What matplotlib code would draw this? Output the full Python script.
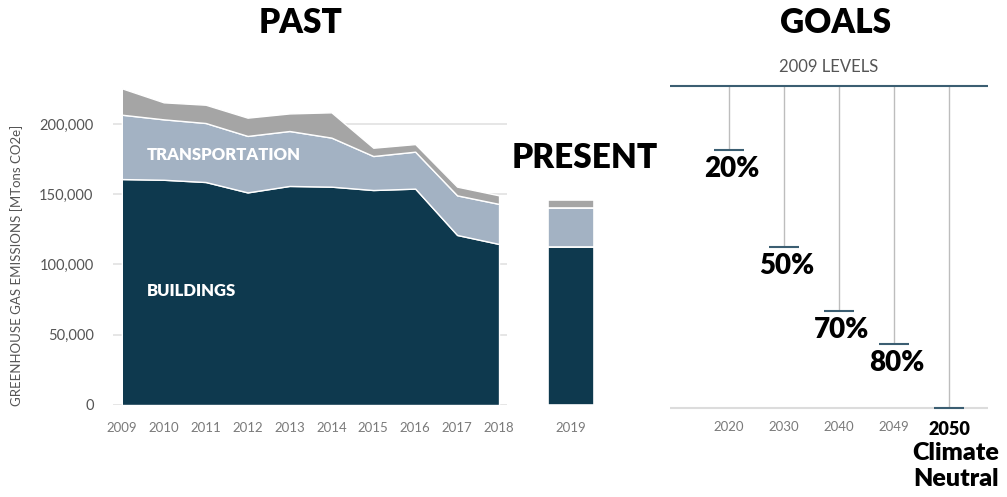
import matplotlib.pyplot as plt
import numpy as np

years = [2009, 2010, 2011, 2012, 2013, 2014, 2015, 2016, 2017, 2018]
buildings = [160800, 160300, 158700, 151300, 155900, 155400, 153000, 154000, 121000, 114600]
transportation = [45800, 43000, 42000, 40200, 39100, 34900, 24200, 26300, 28200, 28500]
other = [18800, 12100, 13000, 13000, 12500, 18000, 5900, 5400, 6200, 6100]

present_year = "2019"
present_buildings = 112500
present_transportation = 28000
present_other = 5200

goal_years = ["2020", "2030", "2040", "2049", "2050"]
goal_reductions = [20, 50, 70, 80, 100]
goal_labels = ["20%", "50%", "70%", "80%", ""]

C_BUILD = "#0e394e"
C_TRANS = "#a3b2c3"
C_OTHER = "#a5a5a5"
C_TEAL = "#3b5e72"
C_GRID = "#e2e2e2"
TICK_GRAY = "#7a7a7a"

plt.rcParams['font.family'] = ['Lato', 'DejaVu Sans']

W, H = 1007, 497
fig = plt.figure(figsize=(W / 100, H / 100), dpi=100)


def px_axes(x0, x1, y0, y1):
    # pixel box -> figure axes
    return fig.add_axes([x0 / W, 1 - y1 / H, (x1 - x0) / W, (y1 - y0) / H])


YMAX = (405 - 80) * 711.7

# ---- past ----
ax = px_axes(113, 507, 80, 405)
ax.stackplot(years, buildings, transportation, other,
             colors=[C_BUILD, C_TRANS, C_OTHER], edgecolor="white", linewidth=1.0, zorder=2)
ax.set_xlim(2008.79, 2018.19)
ax.set_ylim(0, YMAX)
ax.set_yticks([0, 50000, 100000, 150000, 200000])
ax.set_yticklabels(["0", "50,000", "100,000", "150,000", "200,000"])
ax.set_xticks(years)
ax.grid(axis="y", color=C_GRID, lw=1.2, zorder=0)
ax.set_axisbelow(True)
for s in ax.spines.values():
    s.set_visible(False)
ax.tick_params(axis="y", length=0, pad=14, labelsize=10.5, labelcolor="#555555")
ax.tick_params(axis="x", length=0, pad=12, labelsize=9.5, labelcolor=TICK_GRAY)
ax.set_ylabel("GREENHOUSE GAS EMISSIONS [MTons CO2e]", fontsize=9.5, color="#555555")
ax.yaxis.set_label_coords(-0.228, 0.43)
ax.text(2009.6, 178000, "TRANSPORTATION", color="white", fontsize=12, fontweight="heavy", va="center")
ax.text(2009.6, 81000, "BUILDINGS", color="white", fontsize=12, fontweight="heavy", va="center")

# ---- present ----
axp = px_axes(530, 612, 80, 405)
w = 46 / 82
axp.bar([0], [present_buildings], width=w, color=C_BUILD, edgecolor="white", lw=1.2)
axp.bar([0], [present_transportation], bottom=[present_buildings], width=w, color=C_TRANS, edgecolor="white", lw=1.2)
axp.bar([0], [present_other], bottom=[present_buildings + present_transportation], width=w,
        color=C_OTHER, edgecolor="white", lw=1.2)
axp.set_xlim(-0.5, 0.5)
axp.set_ylim(0, YMAX)
axp.set_xticks([0])
axp.set_xticklabels([present_year])
axp.set_yticks([])
for s in axp.spines.values():
    s.set_visible(False)
axp.tick_params(axis="x", length=0, pad=12, labelsize=9.5, labelcolor=TICK_GRAY)

# ---- goals ----
axg = px_axes(670, 988, 60, 410)
unit = 322.0
axg.set_ylim(-2 / unit, 1 + 26 / unit)
axg.set_xlim((670 - 729) / 55, (988 - 729) / 55)
xs = np.arange(len(goal_years))
levels = [1 - r / 100 for r in goal_reductions]
axg.axhline(1.0, color=C_TEAL, lw=1.5, zorder=3)
axg.axhline(0.0, color="#dcdcdc", lw=1.5, zorder=1)
axg.vlines(xs, levels, 1.0, color="#bdbdbd", lw=1.0, zorder=2)
axg.hlines(levels, xs - 0.28, xs + 0.28, color=C_TEAL, lw=1.5, zorder=3)
for x, lv, lab in zip(xs, levels, goal_labels):
    if lab:
        axg.text(x + 0.05, lv - 6 / unit, lab, ha="center", va="top", fontsize=20, fontweight="heavy", color="black")
axg.text(((670 + 988) / 2 - 729) / 55, 1 + 11 / unit, "2009 LEVELS",
         ha="center", va="bottom", fontsize=12, color="#555555")
axg.set_xticks(xs)
axg.set_xticklabels(goal_years)
axg.set_yticks([])
for s in axg.spines.values():
    s.set_visible(False)
axg.tick_params(axis="x", length=0, pad=8, labelsize=9.5, labelcolor=TICK_GRAY)
last = axg.get_xticklabels()[-1]
last.set_color("black")
last.set_fontweight("heavy")
last.set_fontsize(13)
last.set_x(4.13)
axg.text(4.13, -34 / unit, "Climate\nNeutral", ha="center", va="top", fontsize=18, fontweight="heavy",
         color="black", linespacing=1.2)

# ---- titles ----
fig.text(301 / W, 1 - 23 / H, "PAST", ha="center", va="center", fontsize=24, fontweight="heavy")
fig.text(836 / W, 1 - 23 / H, "GOALS", ha="center", va="center", fontsize=24, fontweight="heavy")
fig.text(585 / W, 1 - 158 / H, "PRESENT", ha="center", va="center", fontsize=24, fontweight="heavy")

fig.savefig("out.png", dpi=100)
